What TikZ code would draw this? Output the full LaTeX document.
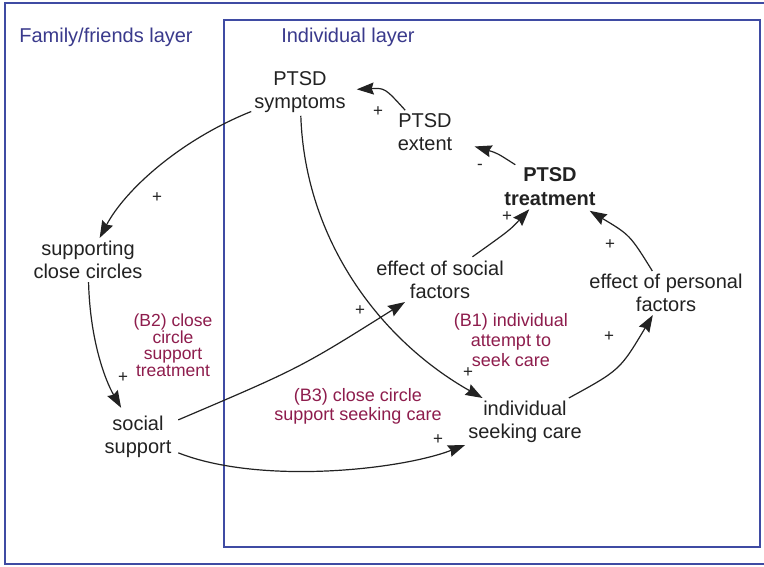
\documentclass[tikz,border=0pt]{standalone}
\usepackage{fontspec}
\setmainfont{Liberation Sans}
\usetikzlibrary{arrows.meta}
\definecolor{boxblue}{HTML}{3F4BA3}
\definecolor{layerblue}{HTML}{3A3A8C}
\definecolor{loopred}{HTML}{8E1D4D}
\definecolor{ink}{HTML}{222222}
\tikzset{
  var/.style={align=center, text=ink, inner sep=3pt, font=\fontsize{20}{23}\selectfont},
  looplbl/.style={align=center, text=loopred, inner sep=0pt, font=\fontsize{17.5}{16.5}\selectfont},
  layerlbl/.style={text=layerblue, inner sep=0pt, font=\fontsize{20}{22}\selectfont},
  sign/.style={text=ink, inner sep=0pt, font=\fontsize{17}{17}\selectfont},
  link/.style={draw=ink, line width=1.2pt, -{Stealth[length=17pt,width=12pt,inset=2pt]}},
  layerbox/.style={draw=boxblue, line width=2pt}
}
\begin{document}
\begin{tikzpicture}[x=1pt,y=-1pt]
\useasboundingbox (0,0) rectangle (764,566);
\fill[white] (0,0) rectangle (764,566);
% layer boxes
\draw[layerbox] (5,3) rectangle (772,564);
\draw[layerbox] (224,20) rectangle (760,547);
\node[layerlbl] (famlbl) at (106,37) {Family/friends layer};
\node[layerlbl] (indlbl) at (348,37) {Individual layer};
% variables
\node[var] (sym) at (300,92) {PTSD\\symptoms};
\node[var] (ext) at (425,132) {PTSD\\extent};
\node[var, font=\fontsize{20}{24}\selectfont\bfseries] (treat) at (550,187) {PTSD\\treatment};
\node[var] (supp) at (88,260) {supporting\\close circles};
\node[var] (effs) at (440,280) {effect of social\\factors};
\node[var] (effp) at (666,293) {effect of personal\\factors};
\node[var] (soc) at (138,437) {social\\support};
\node[var] (isc) at (525,422) {individual\\seeking care};
% loop labels
\node[looplbl] (b2) at (173,345) {(B2) close\\circle\\support\\treatment};
\node[looplbl, font=\fontsize{18}{20}\selectfont] (b1) at (511,340) {(B1) individual\\attempt to\\seek care};
\node[looplbl, font=\fontsize{18}{19}\selectfont] (b3) at (358,406) {(B3) close circle\\support seeking care};
% links
\draw[link, shorten >=8pt] (ext) .. controls (385,88) .. (sym);
\draw[link, shorten >=20pt] (treat) .. controls (497,153) .. (ext);
\draw[link] (sym) .. controls (180,140) and (125,190) .. (supp);
\draw[link, shorten >=6pt] (supp) .. controls (90,340) and (105,380) .. (soc);
\draw[link, shorten <=4pt] (soc) .. controls (300,368) .. (effs);
\draw[link, shorten <=4pt] (soc) .. controls (260,485) and (400,470) .. (isc);
\draw[link] (sym) .. controls (305,240) and (380,340) .. (isc);
\draw[link, shorten <=2pt] (effs) .. controls (510,230) .. (treat);
\draw[link, shorten >=3pt] (effp) .. controls (630,235) .. (treat);
\draw[link] (isc) .. controls (620,370) .. (effp);
% polarity signs
\node[sign] (s1) at (378,112) {+};
\node[sign] (s2) at (480,167) {-};
\node[sign] (s3) at (157,198) {+};
\node[sign] (s4) at (123,378) {+};
\node[sign] (s5) at (360,311) {+};
\node[sign] (s6) at (438,440) {+};
\node[sign] (s7) at (468,373) {+};
\node[sign] (s8) at (507,217) {+};
\node[sign] (s9) at (610,245) {+};
\node[sign] (s10) at (609,337) {+};
\end{tikzpicture}
\end{document}
